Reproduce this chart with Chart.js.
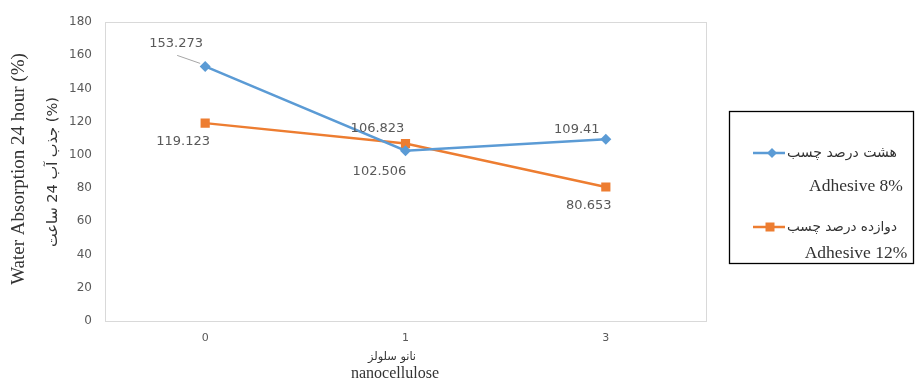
<!DOCTYPE html>
<html>
<head>
<meta charset="utf-8">
<script src="https://cdn.jsdelivr.net/npm/chart.js@4/dist/chart.umd.min.js"></script>
<style>
  html, body { margin: 0; padding: 0; background: #fff; }
  #wrap { width: 916px; height: 383px; position: relative; }
</style>
</head>
<body>
<div id="wrap"><canvas id="c" width="916" height="383"></canvas></div>
<script>
// Nanocellulose content (x categories) and 24 h water absorption (%)
const categories = ['0', '1', '3'];
const adhesive8 = [153.273, 102.506, 109.41];
const adhesive12 = [119.123, 106.823, 80.653];
const yTickValues = [0, 20, 40, 60, 80, 100, 120, 140, 160, 180];

const seriesFa = ['هشت درصد چسب', 'دوازده درصد چسب'];
const seriesEn = ['Adhesive 8%', 'Adhesive 12%'];
const yTitleEn = 'Water Absorption 24 hour (%)';
const yTitleFa = 'جذب آب 24 ساعت (%)';
const xTitleFa = 'نانو سلولز';
const xTitleEn = 'nanocellulose';

const BLUE = '#5B9BD5';
const ORANGE = '#ED7D31';
const LABEL_GREY = '#595959';

// where each value label sits relative to its point
const labelOffsets = [
  [[-29, -23], [-26, 21], [-29, -10]],
  [[-22, 19], [-28, -15], [-17, 19]]
];

function fitFont(ctx, text, family, base, target) {
  ctx.font = base + 'px ' + family;
  const w = ctx.measureText(text).width;
  return (base * target / w).toFixed(2) + 'px ' + family;
}

const decorations = {
  id: 'decorations',
  beforeDatasetsDraw(chart) {
    const { ctx, chartArea: a } = chart;
    ctx.save();
    ctx.strokeStyle = '#d9d9d9';
    ctx.lineWidth = 1;
    ctx.strokeRect(Math.round(a.left) + 0.5, Math.round(a.top) + 0.5,
                   Math.round(a.right - a.left), Math.round(a.bottom - a.top));
    ctx.restore();
  },
  afterDatasetsDraw(chart) {
    const { ctx } = chart;
    ctx.save();
    // value labels
    ctx.font = '13px "DejaVu Sans"';
    ctx.fillStyle = LABEL_GREY;
    ctx.textAlign = 'center';
    ctx.textBaseline = 'middle';
    chart.data.datasets.forEach((ds, i) => {
      const meta = chart.getDatasetMeta(i);
      meta.data.forEach((pt, j) => {
        const [dx, dy] = labelOffsets[i][j];
        ctx.fillText(String(ds.data[j]), pt.x + dx, pt.y + dy);
      });
    });
    // leader line for the first label
    const p0 = chart.getDatasetMeta(0).data[0];
    ctx.strokeStyle = '#a6a6a6';
    ctx.lineWidth = 1;
    ctx.beginPath();
    ctx.moveTo(p0.x - 28, p0.y - 11);
    ctx.lineTo(p0.x - 5, p0.y - 3);
    ctx.stroke();

    // axis titles
    ctx.fillStyle = '#333333';
    ctx.save();
    ctx.translate(19, 169);
    ctx.rotate(-Math.PI / 2);
    ctx.font = '19px "Liberation Serif"';
    ctx.fillText(yTitleEn, 0, 0);
    ctx.restore();

    ctx.save();
    ctx.translate(53, 172);
    ctx.rotate(-Math.PI / 2);
    ctx.font = fitFont(ctx, yTitleFa, '"DejaVu Sans"', 13, 150);
    ctx.fillText(yTitleFa, 0, 0);
    ctx.restore();

    ctx.font = fitFont(ctx, xTitleFa, '"DejaVu Sans"', 12, 48);
    ctx.fillText(xTitleFa, 392, 357);
    ctx.font = '16px "Liberation Serif"';
    ctx.fillText(xTitleEn, 395, 374);

    // legend box
    ctx.strokeStyle = '#000000';
    ctx.lineWidth = 1.3;
    ctx.strokeRect(729.5, 111.5, 184, 152);

    const rows = [
      { y: 153, y2: 186, color: BLUE, shape: 'diamond' },
      { y: 227, y2: 253, color: ORANGE, shape: 'square' }
    ];
    rows.forEach((r, i) => {
      ctx.strokeStyle = r.color;
      ctx.fillStyle = r.color;
      ctx.lineWidth = 2.5;
      ctx.beginPath();
      ctx.moveTo(753, r.y);
      ctx.lineTo(785, r.y);
      ctx.stroke();
      ctx.beginPath();
      if (r.shape === 'diamond') {
        ctx.moveTo(772, r.y - 5); ctx.lineTo(777, r.y); ctx.lineTo(772, r.y + 5); ctx.lineTo(767, r.y);
      } else {
        ctx.rect(765.5, r.y - 4.5, 9, 9);
      }
      ctx.closePath();
      ctx.fill();

      ctx.fillStyle = '#333333';
      ctx.textAlign = 'left';
      ctx.font = fitFont(ctx, seriesFa[i], '"DejaVu Sans"', 12, 110);
      ctx.fillText(seriesFa[i], 787, r.y);
      ctx.textAlign = 'center';
      ctx.font = '17.5px "Liberation Serif"';
      ctx.fillText(seriesEn[i], 856, r.y2);
    });
    ctx.restore();
  }
};

new Chart(document.getElementById('c'), {
  type: 'line',
  data: {
    labels: categories,
    datasets: [
      {
        label: seriesEn[0],
        data: adhesive8,
        borderColor: BLUE,
        backgroundColor: BLUE,
        borderWidth: 2.5,
        pointStyle: 'rectRot',
        pointRadius: 5.5,
        pointBorderWidth: 0,
        tension: 0
      },
      {
        label: seriesEn[1],
        data: adhesive12,
        borderColor: ORANGE,
        backgroundColor: ORANGE,
        borderWidth: 2.5,
        pointStyle: 'rect',
        pointRadius: 6.5,
        pointBorderWidth: 0,
        tension: 0
      }
    ]
  },
  options: {
    responsive: false,
    animation: false,
    devicePixelRatio: 1,
    layout: { padding: { left: 0, top: 22, right: 210, bottom: 0 } },
    plugins: { legend: { display: false }, tooltip: { enabled: false } },
    scales: {
      x: {
        type: 'category',
        offset: true,
        grid: { display: false, drawTicks: false },
        border: { display: false },
        ticks: { color: LABEL_GREY, font: { family: 'DejaVu Sans', size: 11 }, padding: 11 },
        afterFit(scale) { scale.height = 62; }
      },
      y: {
        min: 0,
        max: 180,
        grid: { display: false, drawTicks: false },
        border: { display: false },
        afterBuildTicks(scale) { scale.ticks = yTickValues.map(v => ({ value: v })); },
        ticks: { color: LABEL_GREY, font: { family: 'DejaVu Sans', size: 12 }, padding: 13 },
        afterFit(scale) { scale.width = 105; }
      }
    }
  },
  plugins: [decorations]
});
</script>
</body>
</html>
